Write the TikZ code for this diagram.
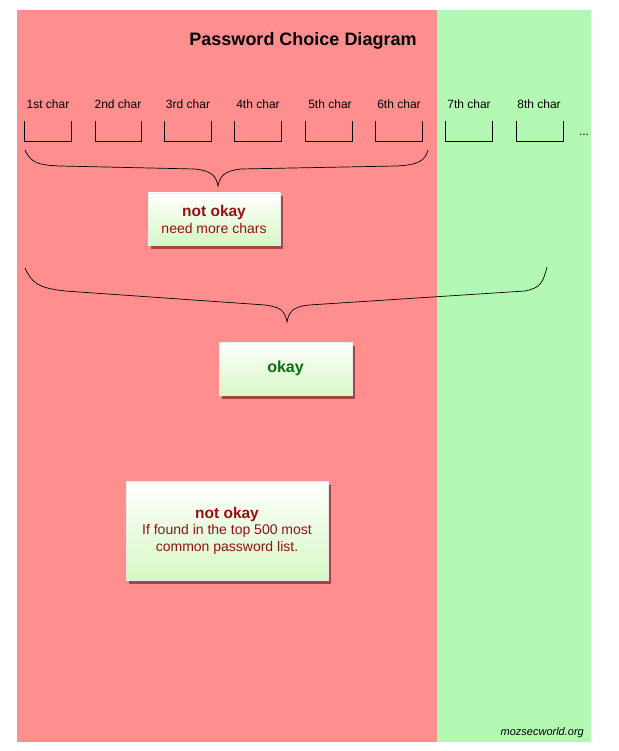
\documentclass[tikz,border=0pt]{standalone}
\usepackage{fontspec}
\setmainfont{Liberation Sans}
\usetikzlibrary{shadows}
\definecolor{redbg}{RGB}{255,143,143}
\definecolor{greenbg}{RGB}{179,249,179}
\definecolor{boxbot}{RGB}{214,248,196}
\definecolor{darkred}{RGB}{150,16,16}
\definecolor{okgreen}{RGB}{10,110,20}
\newcommand{\bigb}[1]{{\bfseries\fontsize{15.5}{17}\selectfont #1}}
\begin{document}
\begin{tikzpicture}[x=1pt,y=-1pt,
  lbl/.style={font=\fontsize{12}{14}\selectfont, inner sep=0pt},
  slot/.style={minimum width=46pt, minimum height=20pt, inner sep=0pt},
  msgbox/.style={draw=white!85!gray, line width=0.4pt, top color=white, bottom color=boxbot,
    drop shadow={shadow xshift=2.5pt, shadow yshift=-3.5pt, opacity=0.5, fill=black!75!red},
    align=center, inner sep=0pt, text=darkred, font=\fontsize{14}{17}\selectfont},
  brace/.style={draw=black, line width=0.7pt}]
\useasboundingbox (0,0) rectangle (618,751);
\fill[white] (0,0) rectangle (618,751);
\fill[redbg] (17,10) rectangle (437,742);
\fill[greenbg] (437,10) rectangle (591,742);
\node[font=\bfseries\fontsize{18}{21}\selectfont, inner sep=0pt] (title) at (303,41) {Password Choice Diagram};
% char labels and slots
\foreach \i/\lx/\bx/\t in {1/48/48/1st, 2/118/118.5/2nd, 3/188/188/3rd, 4/258/258/4th, 5/330/329/5th, 6/399/399/6th, 7/469/469/7th, 8/539/540/8th}{
  \node[lbl] (l\i) at (\lx,104) {\t{} char};
  \node[slot] (s\i) at (\bx,131) {};
  \draw[line width=0.8pt] (s\i.north west) -- (s\i.south west) -- (s\i.south east) -- (s\i.north east);
}
\node[lbl] (dots) at (584,135) {...};
% brace 1
\draw[brace] (25,150) .. controls (31,163) and (38,165) .. (60,166)
  -- (195,169) .. controls (212,171) and (216,176) .. (218,186)
  .. controls (220,176) and (224,171) .. (241,169)
  -- (396,166) .. controls (420,165) and (425,160) .. (428,150);
% brace 2
\draw[brace] (25,268) .. controls (32,283) and (38,288) .. (65,291)
  -- (265,305) .. controls (282,307) and (285,312) .. (287,322)
  .. controls (289,312) and (292,307) .. (309,305)
  -- (525,291) .. controls (540,288) and (543,283) .. (547,267);
% message boxes
\node[msgbox, minimum width=132pt, minimum height=52pt] (nk1) at (214,219)
  {\bigb{not okay}\\ need more chars};
\node[msgbox, minimum width=133pt, minimum height=53pt, text=okgreen] (ok) at (285.5,368.5)
  {{\bfseries\fontsize{16}{18}\selectfont okay}};
\node[msgbox, minimum width=202pt, minimum height=99pt, font=\fontsize{14}{16.5}\selectfont] (nk2) at (227,530.5)
  {\bigb{not okay}\\ If found in the top 500 most\\ common password list.};
\node[font=\itshape\fontsize{11}{13}\selectfont, anchor=east, inner sep=0pt] (site) at (584,733) {mozsecworld.org};
\end{tikzpicture}
\end{document}
